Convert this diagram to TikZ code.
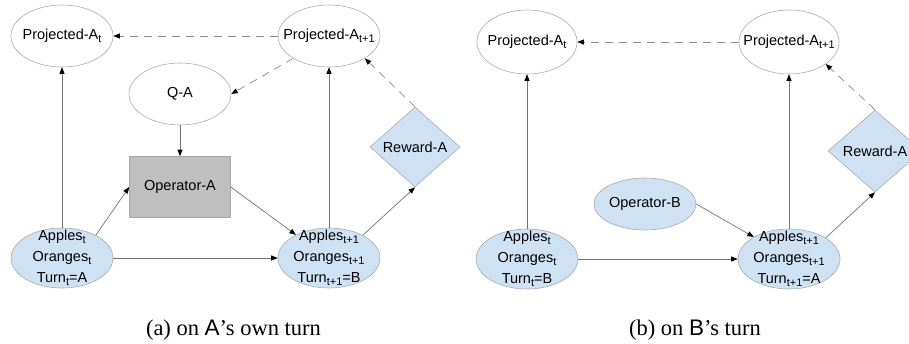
\documentclass[tikz,border=0pt]{standalone}
\usepackage{fontspec}
\setmainfont{Liberation Serif}
\setsansfont{Liberation Sans}
\usetikzlibrary{shapes.geometric,arrows.meta}

%Colours of the drawing
\definecolor{NodeBlue}{HTML}{CFE2F3}
\definecolor{OpGrey}{HTML}{BFBFBF}
\definecolor{EdgeGrey}{HTML}{ABABAB}
\colorlet{LineMark}{black!55}

%small lowered index text
\newcommand{\lowtxt}[1]{\raisebox{-0.4ex}{\fontsize{11}{11}\selectfont #1}}

\tikzset{
  projell/.style={ellipse, draw=EdgeGrey, line width=0.6pt, minimum width=102pt,
    minimum height=62pt, inner sep=0pt},
  stateell/.style={projell, fill=NodeBlue, minimum height=60pt},
  opbox/.style={rectangle, draw=black!35, line width=0.6pt, fill=OpGrey,
    minimum width=101pt, minimum height=61pt},
  rewdiam/.style={diamond, draw=EdgeGrey, line width=0.6pt, fill=NodeBlue,
    minimum width=90pt, minimum height=80pt, inner sep=0pt},
  txt/.style={font=\sffamily\fontsize{14.5}{21}\selectfont, align=center, inner sep=0pt},
  capt/.style={font=\fontsize{22.5}{24}\selectfont, inner sep=0pt},
  solidarr/.style={draw=LineMark, line width=0.7pt,
    -{Triangle[length=6.5pt,width=5pt,color=black]}},
  dasharr/.style={solidarr, draw=black!45, dash pattern=on 8pt off 6pt},
}

\begin{document}
\begin{tikzpicture}[x=1pt,y=-1pt]

\useasboundingbox (0,0) rectangle (909,343);

%%%%% (a) on A's own turn

%Projected nodes
\node[projell, label={[txt]center:{Projected-A\lowtxt{t}}}] (projAt) at (62,36) {};
\node[projell, label={[txt]center:{Projected-A\lowtxt{t+1}}}] (projAtt) at (329,36) {};

%Q and operator
\node[projell, label={[txt]center:{Q-A}}] (qA) at (180,94) {};
\node[opbox, txt] (opA) at (180,187) {Operator-A};

%States
\node[stateell, label={[txt]center:{Apples\lowtxt{t}\\Oranges\lowtxt{t}\\Turn\lowtxt{t}=A}}] (stAt) at (62,258) {};
\node[stateell, label={[txt]center:{Apples\lowtxt{t+1}\\Oranges\lowtxt{t+1}\\Turn\lowtxt{t+1}=B}}] (stAtt) at (329,258) {};

%Reward
\node[rewdiam, label={[txt]center:{Reward-A}}] (rwA) at (415,147) {};

%Connectors
\draw[solidarr] (stAt) -- (projAt);
\draw[dasharr] (projAtt) -- (projAt);
\draw[dasharr] (projAtt.212) -- (qA.east);
\draw[solidarr] (qA) -- (opA);
\draw[solidarr] (stAt.34) -- (opA.west);
\draw[solidarr] (opA.east) -- (stAtt.145);
\draw[solidarr] (stAt) -- (stAtt);
\draw[solidarr] (stAtt) -- (projAtt);
\draw[solidarr] (stAtt.34) -- (rwA.south);
\draw[dasharr] (rwA.north) -- (projAtt.-32);

\node[capt, anchor=base] (capA) at (233.5,335) {(a) on {\sffamily A}’s own turn};

%%%%% (b) on B's turn

%Projected nodes
\node[projell, minimum width=100pt, minimum height=64pt, label={[txt]center:{Projected-A\lowtxt{t}}}] (projBt) at (527,42) {};
\node[projell, minimum width=100pt, minimum height=64pt, label={[txt]center:{Projected-A\lowtxt{t+1}}}] (projBtt) at (789,42) {};

%Operator
\node[stateell, minimum height=52pt, label={[txt]center:{Operator-B}}] (opB) at (645,204) {};

%States
\node[stateell, label={[txt]center:{Apples\lowtxt{t}\\Oranges\lowtxt{t}\\Turn\lowtxt{t}=B}}] (stBt) at (527,259) {};
\node[stateell, label={[txt]center:{Apples\lowtxt{t+1}\\Oranges\lowtxt{t+1}\\Turn\lowtxt{t+1}=A}}] (stBtt) at (789,259) {};

%Reward
\node[rewdiam, minimum width=94pt, minimum height=82pt, label={[txt]center:{Reward-A}}] (rwB) at (875,151) {};

%Connectors
\draw[solidarr] (stBt) -- (projBt);
\draw[dasharr] (projBtt) -- (projBt);
\draw[solidarr] (opB.east) -- (stBtt.148);
\draw[solidarr] (stBt) -- (stBtt);
\draw[solidarr] (stBtt) -- (projBtt);
\draw[solidarr] (stBtt.30) -- (rwB.south);
\draw[dasharr] (rwB.north) -- (projBtt.-31);

\node[capt, anchor=base] (capB) at (695,335) {(b) on {\sffamily B}’s turn};

\end{tikzpicture}
\end{document}
